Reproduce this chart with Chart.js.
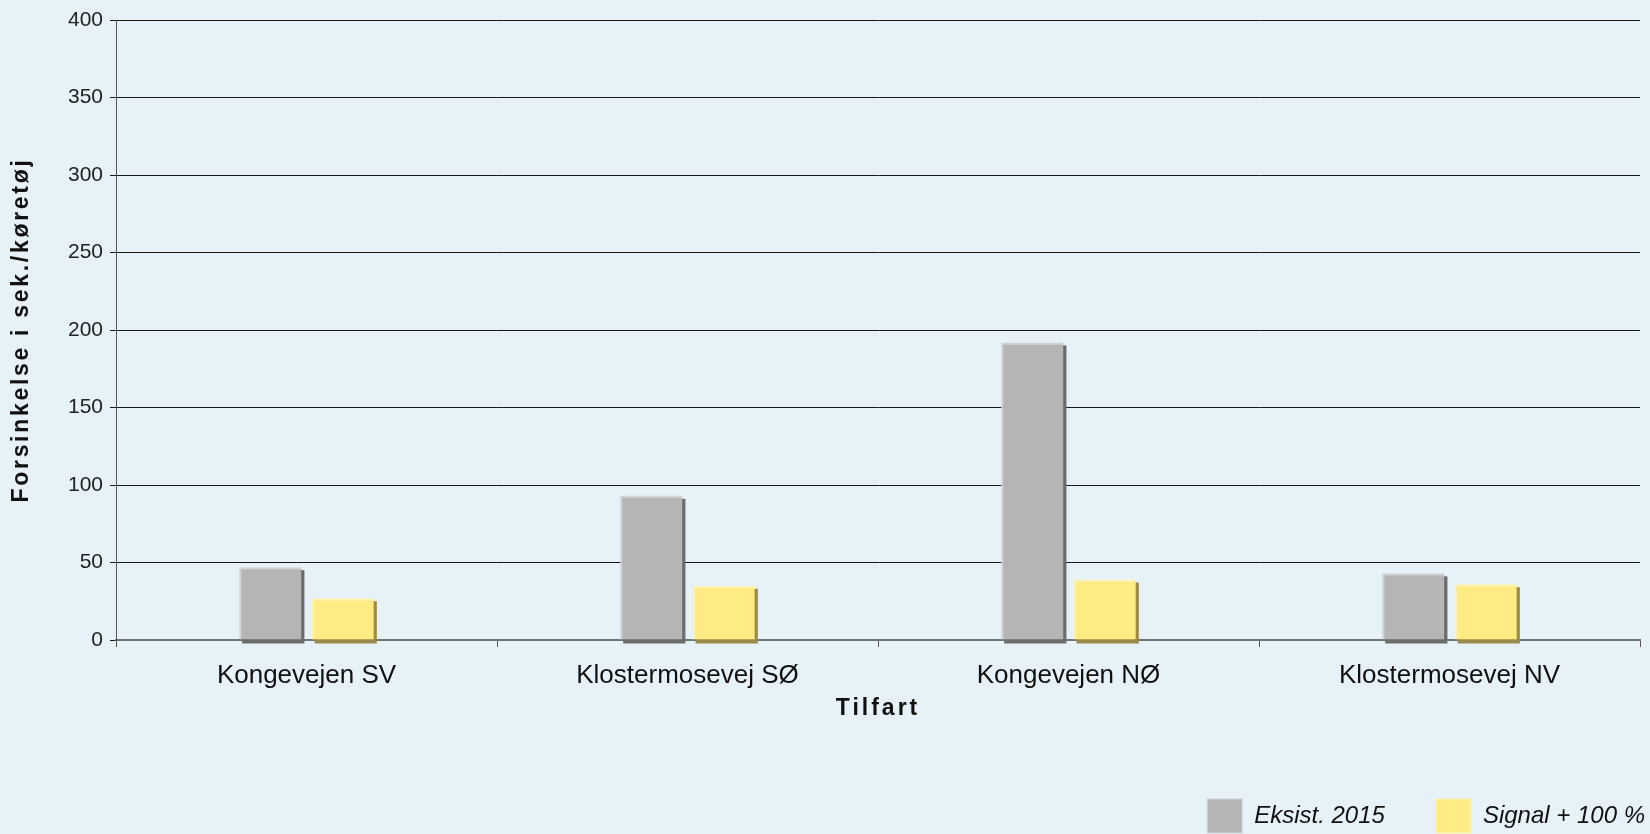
<!DOCTYPE html>
<html>
<head>
<meta charset="utf-8">
<script src="https://cdn.jsdelivr.net/npm/chart.js@4.4.1/dist/chart.umd.min.js"></script>
<style>
  html, body { margin: 0; padding: 0; background: #e7f1f8; }
  #wrap { width: 1650px; height: 834px; }
</style>
</head>
<body>
<div id="wrap"><canvas id="chart"></canvas></div>
<script>
const categories = ["Kongevejen SV", "Klostermosevej SØ", "Kongevejen NØ", "Klostermosevej NV"];
const eksist2015 = [47, 93, 192, 43];
const signal100 = [27, 35, 39, 36];
const seriesNames = ["Eksist. 2015", "Signal + 100 %"];

const yTitle = "Forsinkelse i sek./køretøj";
const xTitle = "Tilfart";

const FONT = "Liberation Sans, Arial, sans-serif";
const LEGEND_PAD = 51;

// shadow behind each bar (dark edge right/below)
const barShadow = {
  id: "barShadow",
  beforeDatasetsDraw(chart) {
    const ctx = chart.ctx;
    const shadows = ["#6c6c6c", "#9a8a4c"];
    chart.data.datasets.forEach((ds, i) => {
      chart.getDatasetMeta(i).data.forEach(bar => {
        const p = bar.getProps(["x", "y", "base", "width"], true);
        ctx.fillStyle = shadows[i];
        ctx.fillRect(p.x - p.width / 2 + 3, p.y + 3, p.width, p.base - p.y + 1);
      });
    });
  }
};

// spaced-out bold axis titles
const spacedTitles = {
  id: "spacedTitles",
  beforeDraw(chart) {
    Object.values(chart.scales).forEach(scale => {
      if (scale._spaced) return;
      const orig = scale.drawTitle;
      const spacing = scale.axis === "y" ? "2.7px" : "3px";
      scale.drawTitle = function (area) {
        const ctx = this.ctx;
        ctx.save();
        ctx.letterSpacing = spacing;
        orig.call(this, area);
        ctx.restore();
      };
      scale._spaced = true;
    });
  }
};

// push the legend flush to the right edge of the page
const legendRight = {
  id: "legendRight",
  afterLayout(chart) {
    const lg = chart.legend;
    const shift = (chart.width - 5 + LEGEND_PAD) - lg.right;
    lg.left += shift;
    lg.right += shift;
  }
};

new Chart(document.getElementById("chart"), {
  type: "bar",
  data: {
    labels: categories,
    datasets: [{
      label: seriesNames[0],
      data: eksist2015,
      backgroundColor: "#b5b5b5",
      borderColor: "#d2d2d2",
      borderWidth: { top: 2, left: 2, right: 0, bottom: 0 },
      borderSkipped: false
    }, {
      label: seriesNames[1],
      data: signal100,
      backgroundColor: "#ffeb84",
      borderColor: "#fff3b0",
      borderWidth: { top: 2, left: 2, right: 0, bottom: 0 },
      borderSkipped: false
    }]
  },
  options: {
    responsive: true,
    maintainAspectRatio: false,
    animation: false,
    categoryPercentage: 0.38,
    barPercentage: 0.86,
    layout: { padding: { top: 20, right: 10, left: 0, bottom: 0 } },
    plugins: {
      legend: {
        position: "bottom",
        align: "end",
        maxHeight: 86,
        labels: {
          boxWidth: 35,
          boxHeight: 34,
          padding: LEGEND_PAD,
          color: "#111",
          font: { family: FONT, size: 24, style: "italic" }
        }
      },
      tooltip: { enabled: false }
    },
    scales: {
      x: {
        offset: true,
        afterFit(scale) { scale.height = 108; },
        grid: { drawOnChartArea: false, offset: true, tickLength: 7, color: "#555" },
        border: { color: "#6f7479", width: 2 },
        ticks: {
          color: "#111",
          padding: 13,
          font: { family: FONT, size: 26 }
        },
        title: {
          display: true,
          text: xTitle,
          color: "#111",
          padding: { top: 0, bottom: 26 },
          font: { family: FONT, size: 23, weight: "bold" }
        }
      },
      y: {
        min: 0,
        max: 400,
        afterFit(scale) { scale.width = 116; },
        ticks: {
          stepSize: 50,
          color: "#222",
          padding: 7,
          font: { family: FONT, size: 21 }
        },
        grid: { color: "#1a1a1a", lineWidth: 1, tickLength: 6 },
        border: { color: "#555", width: 1 },
        title: {
          display: true,
          text: yTitle,
          color: "#111",
          padding: { top: 8, bottom: 0 },
          font: { family: FONT, size: 23, weight: "bold" }
        }
      }
    }
  },
  plugins: [barShadow, spacedTitles, legendRight]
});
</script>
</body>
</html>
